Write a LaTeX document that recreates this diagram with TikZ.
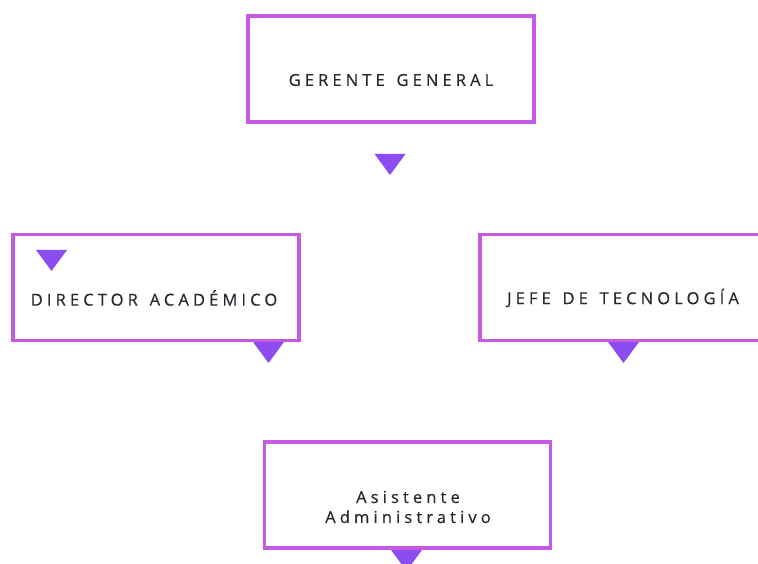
\documentclass[tikz,border=0pt]{standalone}
\usepackage{fontspec}
\setmainfont[LetterSpace=25,WordSpace=1.4,FakeBold=0.4,Ligatures={NoCommon}]{Open Sans}
\usetikzlibrary{calc}
\definecolor{boxborder}{RGB}{198,90,226}
\definecolor{tri}{RGB}{140,76,240}
\definecolor{txt}{RGB}{40,40,48}
\begin{document}
\begin{tikzpicture}[x=1pt,y=-1pt,
  orgbox/.style={draw=boxborder,line width=3.5pt,fill=white,minimum width=286pt,minimum height=106pt,inner sep=0pt},
  label/.style={text=txt,font=\fontsize{16.5}{20}\selectfont,align=center,inner sep=0pt},
  marker/.style={fill=tri,draw=none}]
\useasboundingbox (0,0) rectangle (758,564);
\fill[white] (0,0) rectangle (758,564);
\node[orgbox] (gg) at (391,69) {};
\node[label] (ggt) at (391,80) {GERENTE GENERAL};
\node[orgbox] (da) at (156,287.5) {};
\node[label] (dat) at (154,298) {DIRECTOR ACADÉMICO};
\node[orgbox] (jt) at (623,287.5) {};
\node[label] (jtt) at (623,298) {JEFE DE TECNOLOGÍA};
\node[orgbox] (aa) at (407.5,495) {};
\node[label] (aat) at (408,507) {Asistente\\Administrativo};
\newcommand{\tridown}[1]{\fill[marker] ($(#1)+(-15.5,0)$) -- ($(#1)+(15.5,0)$) -- ($(#1)+(0,21)$) -- cycle;}
\coordinate (t1) at (390,154);
\coordinate (t2) at (51.5,250);
\coordinate (t3) at (268.5,342);
\coordinate (t4) at (623.5,342);
\coordinate (t5) at (406.5,550);
\tridown{t1}\tridown{t2}\tridown{t3}\tridown{t4}\tridown{t5}
\end{tikzpicture}
\end{document}
